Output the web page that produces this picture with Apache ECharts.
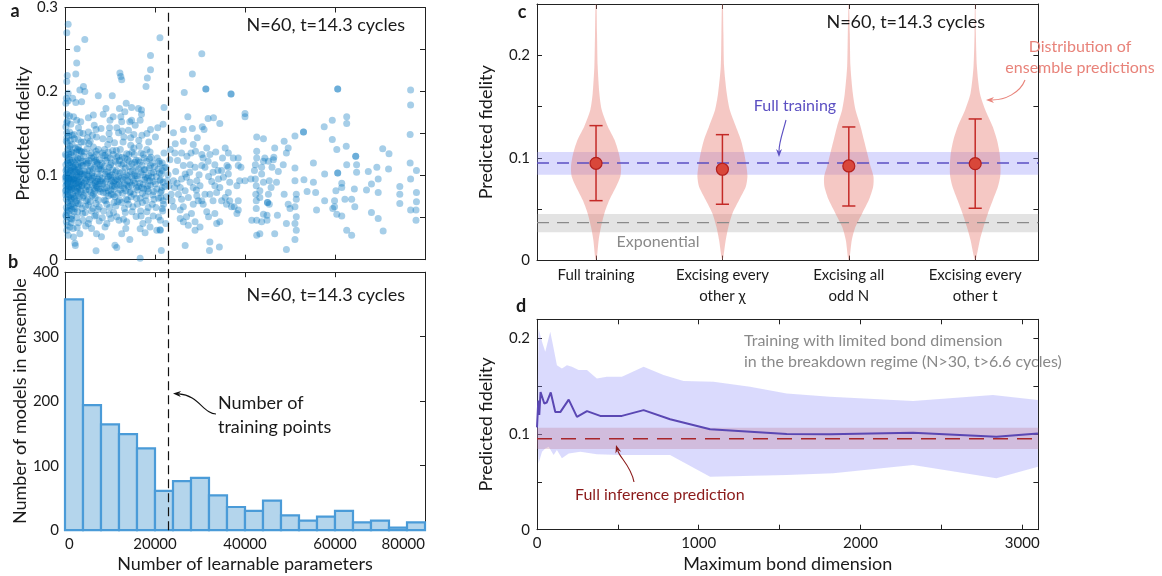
<!DOCTYPE html>
<html><head><meta charset="utf-8">
<script src="https://cdn.jsdelivr.net/npm/echarts@6/dist/echarts.min.js"></script>
<style>html,body{margin:0;padding:0;background:#fff}#c{width:1162px;height:576px}</style>
</head><body><div id="c"></div>
<script>
const FONT = 'Lato, "Noto Sans", sans-serif';

// ---------- Panel a: scatter (x in thousands of learnable parameters, y = predicted fidelity)
const scatterCore = [
[0.2,0.094],[0.5,0.118],[0.3,0.072],[0.8,0.101],[1.1,0.087],[0.6,0.131],[1.4,0.109],[0.4,0.056],[1.7,0.078],[0.9,0.122],[2.1,0.097],[0.3,0.083],[1.2,0.064],[2.4,0.113],[0.7,0.090],[1.9,0.127],[2.8,0.085],[0.2,0.106],[1.5,0.052],[3.1,0.099],[0.5,0.139],[2.6,0.070],[1.0,0.112],[3.4,0.121],[0.4,0.097],[2.2,0.061],[1.3,0.094],[3.7,0.088],[0.8,0.075],[2.9,0.107],[0.1,0.125],[1.6,0.118],[3.3,0.066],[0.6,0.081],[2.0,0.085],[1.1,0.135],[3.8,0.102],[0.3,0.062],[2.5,0.128],[1.8,0.092],[0.9,0.058],[3.0,0.079],[0.2,0.113],[1.4,0.071],[2.7,0.095],[0.7,0.104],[3.5,0.115],[1.2,0.049],[0.4,0.089],[2.3,0.133],[1.7,0.101],[3.9,0.074],[0.6,0.068],[2.0,0.116],[1.0,0.096],[3.2,0.130],[0.3,0.141],[1.5,0.084],[2.8,0.057],[0.8,0.147],[3.6,0.093],[1.9,0.063],[0.5,0.078],[2.4,0.091],[1.3,0.125],[3.1,0.110],[0.2,0.053],[1.6,0.137],[2.6,0.104],[0.9,0.086],[3.4,0.083],[1.1,0.077],[0.4,0.124],[2.1,0.073],[1.8,0.110],[3.7,0.128],[0.7,0.115],[2.9,0.120],[1.4,0.098],[0.1,0.082],[2.2,0.105],[3.3,0.095],[0.6,0.093],[1.2,0.106],[2.7,0.081],[0.3,0.099],[3.8,0.061],[1.7,0.089],[0.8,0.064],[2.5,0.100],[1.0,0.070],[3.0,0.134],[0.5,0.107],[2.0,0.149],[1.5,0.060],[3.5,0.105],[0.2,0.088],[1.9,0.096],[2.3,0.082],[0.9,0.132],[3.2,0.090],[1.3,0.116],[0.4,0.145],[2.8,0.112],[1.6,0.066],[0.7,0.097],
[0.3,0.102],[0.6,0.115],[0.9,0.095],[1.2,0.083],[1.5,0.128],[1.8,0.075],[2.1,0.108],[2.4,0.068],[2.7,0.121],[3.0,0.092],[3.3,0.104],[3.6,0.081],[3.9,0.117],[0.2,0.077],[0.5,0.091],[0.8,0.126],[1.1,0.103],[1.4,0.086],[1.7,0.111],[2.0,0.094],[2.3,0.119],[2.6,0.087],[2.9,0.098],[3.2,0.074],[3.5,0.129],[3.8,0.089],[0.4,0.108],[0.7,0.084],[1.0,0.119],[1.3,0.073],[1.6,0.096],[1.9,0.105],[2.2,0.090],[2.5,0.076],[2.8,0.131],[3.1,0.087],[3.4,0.102],[3.7,0.112],[0.1,0.098],[0.6,0.059],[1.2,0.142],[2.0,0.057],[2.9,0.067],[3.6,0.140],
[4.2,0.091],[5.1,0.115],[6.3,0.078],[7.2,0.102],[4.6,0.064],[5.8,0.127],[6.9,0.088],[7.7,0.119],[4.4,0.105],[5.4,0.083],[6.1,0.097],[7.4,0.071],[4.9,0.132],[5.9,0.058],[6.6,0.110],[7.9,0.094],[4.1,0.076],[5.2,0.099],[6.4,0.122],[7.1,0.086],[4.7,0.117],[5.6,0.069],[6.8,0.093],[7.5,0.108],[4.3,0.128],[5.0,0.087],[6.2,0.061],[7.0,0.125],[4.8,0.095],[5.7,0.111],[6.7,0.074],[7.8,0.081],[4.5,0.056],[5.3,0.138],[6.0,0.103],[7.3,0.096],[4.0,0.112],[5.5,0.092],[6.5,0.085],[7.6,0.063],[4.6,0.083],[5.1,0.072],[6.3,0.134],[7.2,0.114],[4.9,0.101],[5.8,0.080],[6.9,0.067],[7.7,0.099],[4.2,0.140],[5.4,0.106],[6.1,0.089],[7.4,0.131],[4.4,0.097],[5.9,0.121],[6.6,0.052],[7.9,0.107],[5.0,0.145],[6.8,0.118],[4.7,0.070],[7.1,0.093],
[4.3,0.101],[4.8,0.087],[5.3,0.118],[5.7,0.095],[6.2,0.108],[6.6,0.082],[7.1,0.116],[7.6,0.090],[4.1,0.123],[4.5,0.079],[5.0,0.106],[5.5,0.124],[6.0,0.076],[6.4,0.099],[6.9,0.129],[7.4,0.084],[7.8,0.112],[4.6,0.094],[5.2,0.065],[5.9,0.100],[6.7,0.091],[7.3,0.060],[4.9,0.114],[6.5,0.117],
[8.3,0.097],[9.1,0.118],[10.2,0.083],[11.4,0.106],[8.7,0.071],[9.6,0.128],[10.8,0.092],[11.8,0.114],[8.1,0.108],[9.3,0.086],[10.5,0.101],[11.1,0.075],[8.9,0.124],[9.9,0.062],[10.1,0.113],[11.6,0.089],[8.5,0.080],[9.4,0.096],[10.7,0.125],[11.3,0.064],[8.2,0.115],[9.7,0.076],[10.4,0.094],[11.9,0.099],[8.8,0.131],[9.2,0.104],[10.9,0.068],[11.5,0.122],[8.4,0.090],[9.8,0.110],[10.3,0.078],[11.0,0.087],[8.6,0.058],[9.5,0.137],[10.6,0.107],[11.7,0.095],[8.0,0.084],[9.0,0.093],[10.0,0.121],[11.2,0.117],[8.9,0.102],[9.6,0.082],[10.8,0.056],[11.4,0.130],[8.3,0.127],[9.3,0.066],[10.2,0.098],[11.8,0.079],[9.9,0.143],[10.5,0.088],
[8.2,0.092],[8.7,0.111],[9.2,0.079],[9.7,0.099],[10.3,0.115],[10.9,0.084],[11.4,0.096],[11.9,0.123],[8.5,0.124],[9.0,0.070],[9.5,0.105],[10.1,0.090],[10.7,0.077],[11.2,0.104],[11.7,0.069],[8.8,0.085],[9.4,0.121],[10.0,0.100],[10.6,0.130],[11.1,0.094],
[12.2,0.103],[13.1,0.085],[14.3,0.117],[15.2,0.094],[12.7,0.122],[13.6,0.072],[14.8,0.098],[15.7,0.110],[12.4,0.088],[13.4,0.109],[14.1,0.066],[15.4,0.125],[12.9,0.095],[13.9,0.119],[14.6,0.081],[15.9,0.086],[12.1,0.071],[13.3,0.098],[14.5,0.105],[15.1,0.063],[12.6,0.113],[13.8,0.089],[14.9,0.128],[15.6,0.100],[12.3,0.131],[13.2,0.061],[14.4,0.092],[15.3,0.078],[12.8,0.079],[13.7,0.126],[14.2,0.111],[15.8,0.118],[12.5,0.097],[13.5,0.082],[14.7,0.075],[15.5,0.091],[12.0,0.090],[13.0,0.114],[14.0,0.100],[15.0,0.106],[13.4,0.056],[14.6,0.136],[12.9,0.140],[15.3,0.133],[14.1,0.087],
[12.3,0.083],[12.8,0.105],[13.3,0.121],[13.9,0.094],[14.4,0.080],[14.9,0.114],[15.4,0.102],[15.9,0.073],[12.6,0.068],[13.2,0.090],[13.7,0.101],[14.2,0.125],[14.8,0.089],[15.5,0.116],[12.1,0.118],[13.9,0.071],
[16.2,0.096],[17.1,0.112],[18.3,0.084],[19.2,0.103],[16.7,0.073],[17.6,0.121],[18.8,0.094],[19.7,0.081],[16.4,0.108],[17.4,0.090],[18.1,0.117],[19.4,0.066],[16.9,0.127],[17.9,0.076],[18.6,0.100],[19.9,0.111],[16.1,0.083],[17.3,0.101],[18.5,0.062],[19.1,0.122],[16.6,0.091],[17.8,0.107],[18.9,0.128],[19.6,0.093],[16.3,0.118],[17.2,0.068],[18.4,0.088],[19.3,0.098],[16.8,0.058],[17.7,0.095],[18.2,0.131],[19.8,0.072],[16.5,0.135],[17.5,0.084],[18.7,0.109],[19.5,0.115],[16.0,0.100],[17.0,0.086],[18.0,0.070],[19.0,0.089],
[16.3,0.087],[16.9,0.104],[17.4,0.125],[17.9,0.098],[18.5,0.081],[19.0,0.112],[19.5,0.077],[16.6,0.116],[17.2,0.079],[18.3,0.097],[18.8,0.120],[19.7,0.104],[16.1,0.066],[17.6,0.107],
[20.3,0.099],[21.1,0.114],[22.2,0.087],[20.8,0.073],[21.6,0.106],[22.7,0.094],[20.5,0.121],[21.4,0.082],[22.4,0.110],[20.1,0.090],[21.9,0.066],[22.9,0.101],[20.7,0.108],[21.2,0.095],[23.3,0.119],[23.6,0.078],[22.0,0.127],[20.2,0.062],[23.1,0.088],[21.7,0.058],
[20.4,0.084],[21.0,0.103],[21.8,0.092],[22.5,0.075],[20.9,0.117],[22.1,0.109]
];
const scatterOutliers = [
[0.7,0.280],[0.4,0.270],[2.7,0.251],[4.4,0.262],[2.6,0.234],[2.4,0.221],[0.5,0.219],[0.4,0.212],[21.1,0.264],[19.0,0.243],[19.0,0.226],[18.3,0.216],[18.0,0.206],[12.2,0.222],[12.4,0.218],[12.6,0.214],[3.3,0.202],[4.1,0.206],[4.4,0.200],[0.7,0.198],[0.7,0.189],[1.7,0.192],[7.4,0.195],[10.5,0.195],[2.4,0.187],[3.7,0.188],[9.1,0.180],[8.5,0.173],[13.6,0.186],[14.8,0.181],[16.3,0.180],[17.0,0.178],[12.1,0.180],[13.3,0.176],[6.3,0.172],[5.2,0.169],[10.7,0.170],[12.4,0.170],[12.6,0.164],[14.4,0.164],[14.8,0.166],[17.0,0.173],[16.7,0.166],[0.4,0.173],[1.9,0.170],[0.4,0.163],[1.3,0.161],[2.6,0.166],[3.0,0.157],[3.3,0.151],[9.9,0.157],[11.5,0.157],[14.1,0.154],[11.9,0.151],[8.0,0.156],[6.9,0.155],[5.2,0.152],[6.1,0.148],[20.6,0.157],[19.0,0.155],[21.8,0.161],[18.2,0.150],[17.1,0.148],[15.3,0.149],[13.1,0.146],[1.0,0.152],[0.2,0.158],[0.5,0.165],[2.1,0.144],[0.2,0.186],[0.3,0.192],
[0.4,0.151],[1.6,0.148],[2.9,0.143],[4.0,0.150],[5.6,0.141],[7.0,0.146],[8.4,0.144],[9.8,0.150],[11.0,0.139],[12.7,0.153],[14.6,0.145],[16.4,0.142],[18.6,0.140],[20.1,0.146],[1.0,0.171],[3.5,0.164],[6.5,0.160],[10.0,0.166],[15.6,0.160],
[1.1,0.039],[1.9,0.027],[2.2,0.0195],[2.3,0.017],[6.9,0.0105],[11.1,0.0173],[11.5,0.0145],[16.7,0.0016],[14.4,0.0239],[12.6,0.031],[16.7,0.0369],[18.9,0.0389],[21.1,0.0357],[20.8,0.0507],[7.0,0.031],[8.1,0.0272],[5.9,0.037],[3.3,0.031],[0.4,0.035],[0.7,0.029],[3.0,0.044],[5.2,0.043],[9.3,0.043],[13.7,0.045],[15.8,0.0515],[18.5,0.047],[20.4,0.035],[0.3,0.045],[1.5,0.048],[4.0,0.047],[7.6,0.046],[10.2,0.049],[12.0,0.047],[17.3,0.043],[19.6,0.052],[22.4,0.043],[0.5,0.041],[2.7,0.038],
[0.3,0.051],[1.4,0.044],[2.6,0.050],[3.9,0.055],[5.4,0.048],[6.9,0.053],[8.3,0.050],[9.9,0.054],[11.5,0.051],[13.0,0.048],[14.9,0.057],[16.9,0.052],[18.2,0.057],[1.8,0.037],[4.6,0.040],[8.9,0.039],[13.5,0.037],[17.8,0.032]
];
const scatterSparse = [
[30.4,0.245],[28.3,0.221],[26.5,0.199],[31.3,0.203],[31.3,0.203],[36.9,0.197],[36.9,0.197],[60.6,0.203],[60.6,0.203],[76.8,0.202],[76.8,0.184],[22.0,0.181],[40.0,0.174],[40.0,0.170],[27.3,0.170],[31.8,0.168],[33.0,0.169],[34.4,0.162],[26.3,0.155],[28.3,0.156],[30.5,0.158],[30.9,0.155],[24.1,0.151],[29.4,0.145],[42.6,0.146],[44.1,0.144],[48.7,0.141],[49.6,0.133],[51.1,0.147],[53.0,0.152],[53.0,0.152],[57.6,0.158],[59.4,0.166],[59.4,0.143],[62.6,0.170],[62.6,0.162],[76.7,0.149],[70.6,0.132],[72.0,0.126],[62.5,0.135],[60.4,0.131],[64.6,0.123],[64.6,0.123],[55.2,0.115],[57.7,0.102],[60.6,0.103],[60.6,0.103],[62.6,0.113],[64.8,0.113],[64.8,0.104],[67.4,0.105],[71.9,0.108],[76.7,0.115],[76.8,0.096],[78.1,0.106],[74.4,0.087],[74.4,0.078],[74.4,0.067],[78.1,0.080],[78.1,0.069],[78.0,0.059],[76.8,0.059],[78.0,0.047],[69.6,0.080],[69.6,0.049],[70.7,0.034],[68.1,0.090],[68.1,0.056],[67.0,0.083],[64.3,0.084],[63.7,0.072],[64.4,0.063],[61.5,0.091],[61.5,0.086],[62.2,0.072],[60.2,0.082],[59.9,0.070],[59.9,0.063],[59.5,0.061],[60.4,0.054],[61.5,0.052],[62.6,0.035],[63.7,0.029],[57.7,0.070],[55.9,0.059],[53.8,0.081],[55.2,0.092],[55.7,0.080],[53.1,0.095],[51.1,0.109],[51.1,0.094],[51.4,0.078],[51.4,0.072],[51.1,0.063],[51.4,0.051],[51.1,0.043],[51.4,0.035],[51.1,0.024],[49.2,0.043],[49.2,0.012],[49.6,0.066],[50.0,0.061],[48.7,0.078],[47.0,0.092],[47.4,0.105],[48.5,0.113],[49.2,0.127],[46.6,0.133],[46.4,0.122],[46.0,0.110],[46.6,0.031],[47.2,0.053],[45.0,0.068],[45.0,0.068],[45.2,0.078],[44.9,0.053],[45.4,0.066],[44.9,0.047],[44.1,0.054],[43.7,0.045],[43.3,0.031],[42.6,0.047],[42.6,0.029],[41.5,0.047],[42.5,0.070],[42.5,0.061],[42.4,0.078],[42.5,0.088],[42.3,0.096],[42.1,0.106],[42.3,0.113],[42.6,0.121],[42.6,0.129],[43.7,0.102],[43.7,0.110],[44.1,0.117],[44.1,0.092],[44.4,0.121],[45.2,0.117],[46.3,0.119],[45.4,0.094],[45.8,0.086],[43.3,0.082],[43.3,0.074],[41.3,0.096],[40.0,0.094],[39.1,0.110],[38.5,0.121],[38.5,0.112],[38.8,0.094],[38.2,0.088],[38.5,0.070],[38.5,0.059],[37.6,0.063],[38.2,0.055],[36.6,0.092],[36.3,0.080],[36.6,0.070],[37.0,0.063],[36.3,0.127],[37.4,0.121],[35.6,0.133],[36.0,0.112],[34.8,0.106],[35.2,0.098],[34.4,0.086],[34.4,0.045],[33.3,0.055],[33.7,0.043],[32.2,0.021],[32.1,0.011],[34.3,0.015],[30.7,0.066],[31.5,0.057],[31.9,0.051],[31.1,0.078],[30.4,0.070],[30.0,0.088],[29.3,0.076],[29.6,0.070],[28.5,0.066],[28.1,0.055],[28.9,0.045],[28.9,0.035],[30.0,0.039],[26.7,0.017],[27.0,0.051],[26.3,0.045],[27.4,0.041],[25.6,0.059],[25.6,0.049],[25.9,0.072],[26.3,0.063],[25.2,0.078],[25.6,0.086],[26.7,0.082],[27.4,0.074],[27.8,0.092],[28.5,0.086],[29.3,0.094],[25.9,0.096],[26.7,0.102],[26.3,0.112],[27.8,0.113],[28.9,0.110],[30.4,0.112],[31.1,0.110],[31.8,0.117],[30.7,0.121],[31.5,0.133],[30.4,0.125],[32.2,0.125],[28.5,0.137],[26.3,0.141],[25.9,0.127],[24.4,0.127],[32.9,0.104],[33.3,0.113],[34.0,0.106],[36.3,0.102],[36.3,0.110],[32.2,0.078],[32.9,0.070],[33.7,0.080],[33.3,0.088],[34.8,0.070],[35.9,0.066],[35.6,0.074],[21.4,0.102],[21.6,0.086],[21.3,0.074],[21.6,0.061],[21.2,0.047],[21.2,0.035],[21.4,0.011],[21.1,0.094],[21.2,0.080],[21.8,0.070],[21.6,0.115],[24.1,0.094],[23.8,0.070],[24.1,0.063],[24.3,0.086],[23.4,0.131],[24.6,0.105],[24.9,0.091],[25.0,0.118],[27.1,0.123],[29.0,0.129],[28.0,0.127],[24.5,0.138],[27.0,0.098],[29.8,0.101],[32.6,0.093],[34.1,0.096],[35.0,0.121],[33.5,0.128],[31.9,0.099],[29.2,0.083],[27.7,0.104],[69.3,0.110],[69.6,0.096]
];
const trainingPoints = 23000;

// ---------- Panel b: histogram
const histBinStart = [0,4000,8000,12000,16000,20000,24000,28000,32000,36000,40000,44000,48000,52000,56000,60000,64000,68000,72000,76000];
const histBinWidth = 4000;
const histCounts = [358,194,164,149,127,61,76,81,54,36,30,46,23,15,21,30,12,15,4,12];

// ---------- Panel c: violins
const violinCategories = ['Full training', 'Excising every\nother χ', 'Excising all\nodd N', 'Excising every\nother t'];
const violinLevels = [0.004,0.020,0.033,0.046,0.059,0.072,0.082,0.092,0.105,0.118,0.131,0.147,0.163,0.189,0.221,0.249];
const violinDensity1 = [3,8,15,25,40,60,73,75,68,55,35,17,10,5,3,1.5];
const violinDensity2 = [3,10,18,30,50,70,75,72,65,55,40,22,13,5,3,1.5];
const violinDensity3 = [3,9,20,40,60,73,74,65,55,45,35,20,12,5,3,1];
const violinDensity4 = [4,14,25,38,53,68,75,76,73,65,52,30,14,5,2,1];
const violinMean = [0.0948, 0.0890, 0.0922, 0.0944];
const violinLow  = [0.0584, 0.0549, 0.0532, 0.0510];
const violinHigh = [0.1315, 0.1227, 0.1302, 0.1380];
const fullTrainingBand = [0.0837, 0.0951, 0.1058];   // low, mid, high
const exponentialBand = [0.0276, 0.0370, 0.0454];

// ---------- Panel d: bond dimension
const bondLine = [[0,0.107],[8,0.135],[14,0.120],[22,0.144],[30,0.145],[45,0.132],[60,0.133],[85,0.1435],[113,0.123],[144,0.123],[196,0.136],[247,0.118],[309,0.124],[391,0.119],[525,0.119],[659,0.125],[823,0.1155],[1070,0.105],[1544,0.100],[1811,0.0997],[2325,0.1014],[2840,0.0972],[3097,0.1007]];
const bondUpper = [[0,0.108],[10,0.210],[31,0.1965],[51,0.186],[82,0.207],[103,0.1895],[123,0.172],[154,0.1686],[185,0.172],[216,0.1703],[257,0.1669],[309,0.1669],[370,0.158],[432,0.160],[525,0.160],[659,0.1703],[782,0.1617],[906,0.1554],[1091,0.1547],[1317,0.1494],[1544,0.1425],[1811,0.139],[2325,0.1345],[2819,0.1408],[3097,0.1355]];
const bondLower = [[0,0.108],[10,0.0694],[31,0.0815],[51,0.085],[72,0.0868],[103,0.078],[123,0.0833],[154,0.0746],[196,0.0798],[268,0.0815],[370,0.0788],[514,0.078],[679,0.078],[823,0.078],[1070,0.0554],[1544,0.0572],[1831,0.0589],[2325,0.0676],[2840,0.0537],[3097,0.0658]];
const fullInferenceBand = [0.0843, 0.0951, 0.1066];

// ---------- axis extents
const A_XMAX = 80000, A_YMAX = 0.3, B_YMAX = 400;
const C_XMIN = 0.533, C_XMAX = 4.5, C_YMAX = 0.25;
const D_XMAX = 3100, D_YMAX = 0.22;
const VIOLIN_SCALE = 379;

const chart = echarts.init(document.getElementById('c'), null, {renderer: 'canvas'});
const TXT = '#1a1a1a';
const axisLine = {show: true, onZero: false, lineStyle: {color: '#222', width: 1}};
const tick = {show: true, inside: true, length: 5, lineStyle: {color: '#222', width: 1}};
const lab = {fontFamily: FONT, fontSize: 15, color: TXT};
const nameStyle = {fontFamily: FONT, fontSize: 18, color: TXT};
const noSplit = {show: false};
const tenths = v => { const r = Math.round(v * 10); return Math.abs(v * 10 - r) < 1e-6 ? (r === 0 ? '0' : (r / 10).toFixed(1)) : ''; };

function mirror(base, pos) {
  return Object.assign({}, base, {position: pos, name: '', axisLabel: {show: false}, axisTick: Object.assign({}, tick, base.axisTick && base.axisTick.customValues ? {customValues: base.axisTick.customValues} : {})});
}

const xa0 = {type: 'value', gridIndex: 0, min: 0, max: A_XMAX, interval: 20000, axisLine, axisTick: tick, splitLine: noSplit, axisLabel: {show: false}};
const xa2 = {type: 'value', gridIndex: 1, min: 0, max: A_XMAX, interval: 20000, axisLine, axisTick: tick, splitLine: noSplit,
  axisLabel: Object.assign({margin: 6, alignMinLabel: 'left', alignMaxLabel: 'right', formatter: v => String(v)}, lab),
  name: 'Number of learnable parameters', nameLocation: 'middle', nameGap: 25, nameTextStyle: nameStyle};
const xa4 = {type: 'value', gridIndex: 2, min: C_XMIN, max: C_XMAX, axisLine, splitLine: noSplit,
  axisTick: Object.assign({}, tick, {customValues: [1, 2, 3, 4]}),
  axisLabel: Object.assign({customValues: [1, 2, 3, 4], margin: 4, lineHeight: 21, formatter: v => violinCategories[Math.round(v) - 1]}, lab)};
const xa6 = {type: 'value', gridIndex: 3, min: 0, max: D_XMAX, interval: 500, axisLine, axisTick: tick, splitLine: noSplit,
  axisLabel: Object.assign({margin: 6, formatter: v => (v % 1000 === 0 ? String(v) : '')}, lab),
  name: 'Maximum bond dimension', nameLocation: 'middle', nameGap: 25, nameTextStyle: nameStyle};

const ya0 = {type: 'value', gridIndex: 0, min: 0, max: A_YMAX, interval: 0.05, axisLine, axisTick: tick, splitLine: noSplit,
  axisLabel: Object.assign({margin: 7, formatter: tenths}, lab),
  name: 'Predicted fidelity', nameLocation: 'middle', nameGap: 33, nameTextStyle: nameStyle};
const ya2 = {type: 'value', gridIndex: 1, min: 0, max: B_YMAX, interval: 100, axisLine, axisTick: tick, splitLine: noSplit,
  axisLabel: Object.assign({margin: 6}, lab),
  name: 'Number of models in ensemble', nameLocation: 'middle', nameGap: 33, nameTextStyle: nameStyle};
const ya4 = {type: 'value', gridIndex: 2, min: 0, max: C_YMAX, interval: 0.05, axisLine, axisTick: tick, splitLine: noSplit,
  axisLabel: Object.assign({margin: 7, formatter: tenths}, lab),
  name: 'Predicted fidelity', nameLocation: 'middle', nameGap: 42, nameTextStyle: nameStyle};
const ya6 = {type: 'value', gridIndex: 3, min: 0, max: D_YMAX, interval: 0.05, axisLine, axisTick: tick, splitLine: noSplit,
  axisLabel: Object.assign({margin: 7, formatter: tenths}, lab),
  name: 'Predicted fidelity', nameLocation: 'middle', nameGap: 42, nameTextStyle: nameStyle};

const xAxes = [xa0, mirror(xa0, 'top'), xa2, mirror(xa2, 'top'), xa4, mirror(xa4, 'top'), xa6, mirror(xa6, 'top')];
const yAxes = [ya0, mirror(ya0, 'right'), ya2, mirror(ya2, 'right'), ya4, mirror(ya4, 'right'), ya6, mirror(ya6, 'right')];

function hLineSeries(xi, yi, xmin, xmax, y, color, dash, width, z) {
  return {type: 'custom', xAxisIndex: xi, yAxisIndex: yi, z, silent: true, data: [[y]],
    renderItem: (p, api) => {
      const a = api.coord([xmin, y]), b = api.coord([xmax, y]);
      return {type: 'line', shape: {x1: a[0], y1: a[1], x2: b[0], y2: b[1]}, style: {stroke: color, lineWidth: width, lineDash: dash}};
    }};
}
function hBandSeries(xi, yi, xmin, xmax, lo, hi, color, z) {
  return {type: 'custom', xAxisIndex: xi, yAxisIndex: yi, z, silent: true, data: [[lo, hi]],
    renderItem: (p, api) => {
      const a = api.coord([xmin, hi]), b = api.coord([xmax, lo]);
      return {type: 'rect', shape: {x: a[0], y: a[1], width: b[0] - a[0], height: b[1] - a[1]}, style: {fill: color}};
    }};
}
function vLineSeries(xi, yi, x, y0, y1, z) {
  return {type: 'custom', xAxisIndex: xi, yAxisIndex: yi, z, silent: true, data: [[x]],
    renderItem: (p, api) => {
      const a = api.coord([x, y0]), b = api.coord([x, y1]);
      return {type: 'line', shape: {x1: a[0], y1: a[1], x2: b[0], y2: b[1]}, style: {stroke: '#111', lineWidth: 1.2, lineDash: [9, 5]}};
    }};
}

const violinDensities = [violinDensity1, violinDensity2, violinDensity3, violinDensity4];
const scatterAll = scatterCore.concat(scatterOutliers, scatterSparse).map(p => [p[0] * 1000, p[1]]);

const series = [
  // a
  {type: 'scatter', xAxisIndex: 0, yAxisIndex: 0, data: scatterAll, symbolSize: 7, z: 2,
    itemStyle: {color: '#0072bd', opacity: 0.35, borderWidth: 0}},
  vLineSeries(0, 0, trainingPoints, 0, A_YMAX, 5),
  // b
  {type: 'custom', xAxisIndex: 2, yAxisIndex: 2, z: 2,
    data: histCounts.map((c, i) => [histBinStart[i], histBinStart[i] + histBinWidth, c]),
    encode: {x: [0, 1], y: 2},
    renderItem: (p, api) => {
      const a = api.coord([api.value(0), api.value(2)]), b = api.coord([api.value(1), 0]);
      return {type: 'rect', shape: {x: a[0], y: a[1], width: b[0] - a[0], height: b[1] - a[1]},
        style: {fill: '#b4d5ec', stroke: '#4a9bd8', lineWidth: 2.2}};
    }},
  vLineSeries(2, 2, trainingPoints, 0, 421, 5),
  // c
  hBandSeries(4, 4, C_XMIN, C_XMAX, fullTrainingBand[0], fullTrainingBand[2], 'rgba(140,140,250,0.32)', 1),
  hBandSeries(4, 4, C_XMIN, C_XMAX, exponentialBand[0], exponentialBand[2], 'rgba(150,150,150,0.27)', 1),
  {type: 'custom', xAxisIndex: 4, yAxisIndex: 4, z: 2, silent: true,
    data: violinCategories.map((c, i) => [i + 1]),
    renderItem: (p, api) => {
      const i = p.dataIndex, c = i + 1, d = violinDensities[i];
      const pts = [api.coord([c, 0])];
      violinLevels.forEach((y, k) => pts.push(api.coord([c + d[k] / VIOLIN_SCALE, y])));
      pts.push(api.coord([c, C_YMAX]));
      for (let k = violinLevels.length - 1; k >= 0; k--) pts.push(api.coord([c - d[k] / VIOLIN_SCALE, violinLevels[k]]));
      return {type: 'polygon', shape: {points: pts, smooth: 0.25}, style: {fill: 'rgba(232,125,115,0.42)'}};
    }},
  hLineSeries(4, 4, C_XMIN, C_XMAX, fullTrainingBand[1], '#5b4fc2', [12, 8], 1.3, 3),
  hLineSeries(4, 4, C_XMIN, C_XMAX, exponentialBand[1], '#8a8a8a', [12, 8], 1.3, 3),
  {type: 'custom', xAxisIndex: 4, yAxisIndex: 4, z: 4, silent: true,
    data: violinMean.map((m, i) => [i + 1, m]),
    renderItem: (p, api) => {
      const i = p.dataIndex, c = i + 1;
      const t = api.coord([c, violinHigh[i]]), b = api.coord([c, violinLow[i]]), m = api.coord([c, violinMean[i]]);
      const cap = api.coord([c + 0.052, violinHigh[i]])[0] - t[0];
      const st = {stroke: '#c42a27', lineWidth: 1.5};
      return {type: 'group', children: [
        {type: 'line', shape: {x1: t[0], y1: t[1], x2: b[0], y2: b[1]}, style: st},
        {type: 'line', shape: {x1: t[0] - cap, y1: t[1], x2: t[0] + cap, y2: t[1]}, style: st},
        {type: 'line', shape: {x1: b[0] - cap, y1: b[1], x2: b[0] + cap, y2: b[1]}, style: st},
        {type: 'circle', shape: {cx: m[0], cy: m[1], r: 6}, style: {fill: '#d9473a', stroke: '#b3201d', lineWidth: 1.2}}
      ]};
    }},
  // d
  {type: 'custom', xAxisIndex: 6, yAxisIndex: 6, z: 1, silent: true, data: [[0]],
    renderItem: (p, api) => {
      const pts = bondUpper.map(q => api.coord(q)).concat(bondLower.slice().reverse().map(q => api.coord(q)));
      return {type: 'polygon', shape: {points: pts}, style: {fill: 'rgba(140,140,250,0.32)'}};
    }},
  hBandSeries(6, 6, 0, D_XMAX, fullInferenceBand[0], fullInferenceBand[2], 'rgba(190,120,150,0.3)', 2),
  hLineSeries(6, 6, 0, D_XMAX, fullInferenceBand[1], '#a8262a', [15, 9], 1.4, 3),
  {type: 'line', xAxisIndex: 6, yAxisIndex: 6, z: 4, data: bondLine, symbol: 'none', silent: true,
    lineStyle: {color: '#5a47b3', width: 2}}
];

function arrow(p0, c1, c2, p3, color, width) {
  const dx = p3[0] - c2[0], dy = p3[1] - c2[1], L = Math.hypot(dx, dy), ux = dx / L, uy = dy / L;
  const len = 8, half = 3;
  const bx = p3[0] - ux * len, by = p3[1] - uy * len;
  return [
    {type: 'bezierCurve', shape: {x1: p0[0], y1: p0[1], cpx1: c1[0], cpy1: c1[1], cpx2: c2[0], cpy2: c2[1], x2: bx + ux * 2, y2: by + uy * 2},
      style: {stroke: color, lineWidth: width, fill: null}, z: 10},
    {type: 'polygon', shape: {points: [p3, [bx - uy * half, by + ux * half], [bx + ux * 2.5, by + uy * 2.5], [bx + uy * half, by - ux * half]]},
      style: {fill: color}, z: 10}
  ];
}
function txt(x, y, s, opts) {
  return Object.assign({type: 'text', x, y, z: 10, silent: true,
    style: Object.assign({text: s, fontFamily: FONT, fontSize: 17, fill: TXT, verticalAlign: 'middle', align: 'left'}, opts || {})});
}

const graphic = [
  txt(15, 11, 'a', {fontWeight: 'bold', fontSize: 18, align: 'center'}),
  txt(13, 262, 'b', {fontWeight: 'bold', fontSize: 18, align: 'center'}),
  txt(522, 12, 'c', {fontWeight: 'bold', fontSize: 18, align: 'center'}),
  txt(521, 306, 'd', {fontWeight: 'bold', fontSize: 18, align: 'center'}),
  txt(405, 25, 'N=60, t=14.3 cycles', {align: 'right', fontSize: 18}),
  txt(405, 295, 'N=60, t=14.3 cycles', {align: 'right', fontSize: 18}),
  txt(218, 403, 'Number of', {fontSize: 18}),
  txt(218, 427, 'training points', {fontSize: 18}),
  txt(985, 22, 'N=60, t=14.3 cycles', {align: 'right', fontSize: 18}),
  txt(1080, 47, 'Distribution of', {align: 'center', fontSize: 16, fill: '#e8837a'}),
  txt(1080, 68, 'ensemble predictions', {align: 'center', fontSize: 16, fill: '#e8837a'}),
  txt(795, 106, 'Full training', {align: 'center', fontSize: 16, fill: '#5b4fc2'}),
  txt(658, 242, 'Exponential', {align: 'center', fontSize: 16, fill: '#8a8a8a'}),
  txt(744, 341, 'Training with limited bond dimension', {fontSize: 16, fill: '#8a8a8a'}),
  txt(744, 362, 'in the breakdown regime (N>30, t>6.6 cycles)', {fontSize: 16, fill: '#8a8a8a'}),
  txt(575, 495, 'Full inference prediction', {fontSize: 16, fill: '#8b1a1a'})
].concat(
  arrow([216, 414], [204, 414], [198, 395], [173, 393.5], '#111', 1.1),
  arrow([786, 120], [783, 132], [779, 142], [779, 157], '#5b4fc2', 1.1),
  arrow([1025, 80], [1020, 93], [1005, 100], [986, 100], '#e8837a', 1.1),
  arrow([634, 482], [631, 466], [620, 458], [616, 445], '#8b1a1a', 1.1)
);

chart.setOption({
  animation: false,
  backgroundColor: '#fff',
  grid: [
    {left: 65, top: 5.3, width: 360, height: 254.4},
    {left: 65, top: 272.2, width: 360, height: 258},
    {left: 537, top: 4, width: 501.4, height: 256.6},
    {left: 537, top: 319.3, width: 501.4, height: 210.4}
  ],
  xAxis: xAxes,
  yAxis: yAxes,
  series,
  graphic
});
</script></body></html>
